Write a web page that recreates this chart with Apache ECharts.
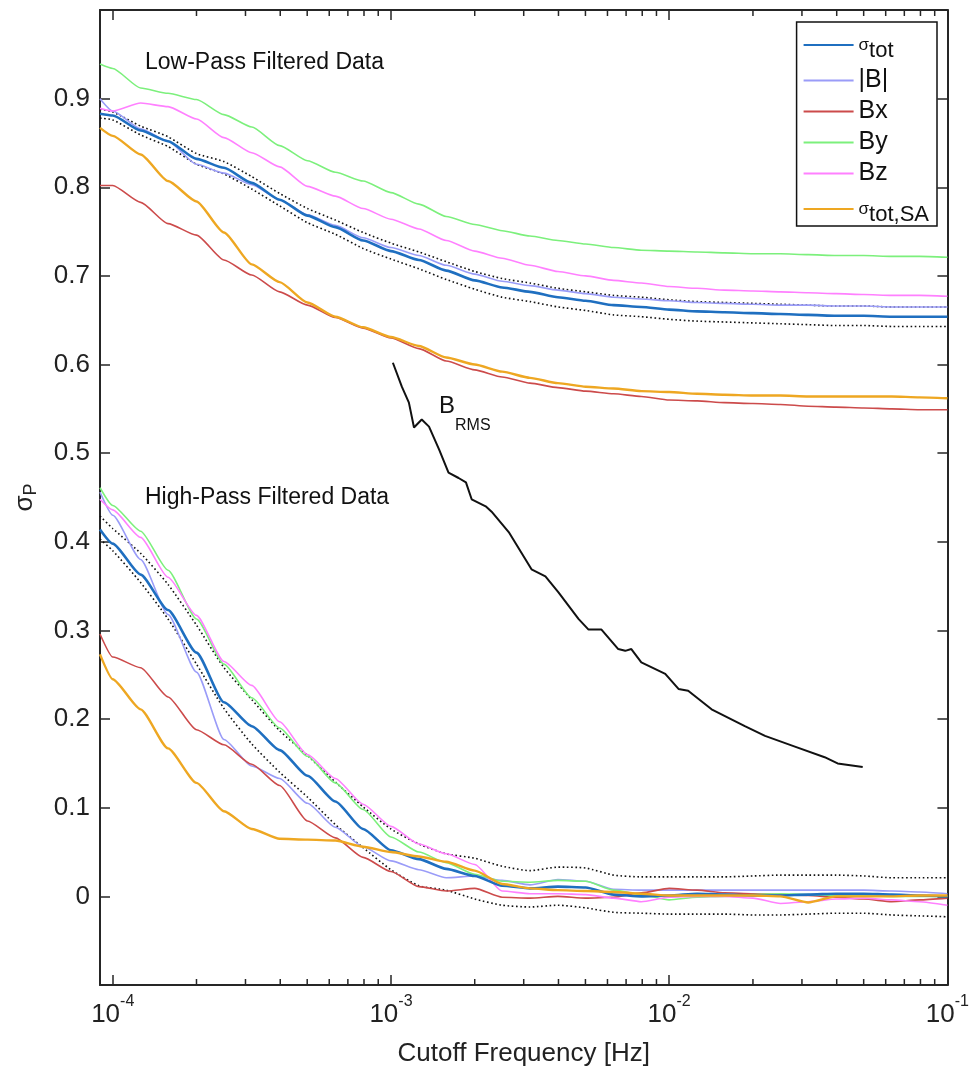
<!DOCTYPE html>
<html>
<head>
<meta charset="utf-8">
<script src="https://cdn.jsdelivr.net/npm/echarts@6/dist/echarts.min.js"></script>
<style>
  html, body { margin: 0; background: #fff; }
  #chart { width: 972px; height: 1072px; }
</style>
</head>
<body>
<div id="chart"></div>
<script>
const FONT = '"Liberation Sans", Arial, Helvetica, sans-serif';

// shared frequency grid (Hz) for the filtered curves
const freqs = [9e-5, 1e-4, 1.26e-4, 1.58e-4, 2.0e-4, 2.51e-4, 3.16e-4, 3.98e-4, 5.01e-4, 6.31e-4, 7.94e-4,
  1e-3, 1.26e-3, 1.58e-3, 2.0e-3, 2.51e-3, 3.16e-3, 3.98e-3, 5.01e-3, 6.31e-3, 7.94e-3,
  1e-2, 1.26e-2, 1.58e-2, 2.0e-2, 2.51e-2, 3.16e-2, 3.98e-2, 5.01e-2, 6.31e-2, 7.94e-2, 0.1];

// low-pass filtered data
const lpTot = [0.883, 0.881, 0.864, 0.852, 0.832, 0.822, 0.805, 0.786, 0.768, 0.755, 0.740, 0.728, 0.718, 0.706, 0.695, 0.687, 0.682, 0.676, 0.672, 0.667, 0.665, 0.662, 0.660, 0.659, 0.658, 0.657, 0.656, 0.655, 0.655, 0.654, 0.654, 0.654];
const lpTotUp = [0.888, 0.885, 0.869, 0.857, 0.838, 0.829, 0.812, 0.793, 0.776, 0.763, 0.749, 0.737, 0.727, 0.716, 0.705, 0.697, 0.692, 0.686, 0.682, 0.678, 0.676, 0.673, 0.671, 0.670, 0.669, 0.668, 0.667, 0.666, 0.666, 0.665, 0.665, 0.665];
const lpTotLo = [0.878, 0.876, 0.859, 0.846, 0.826, 0.815, 0.798, 0.779, 0.760, 0.747, 0.731, 0.719, 0.708, 0.696, 0.685, 0.676, 0.671, 0.665, 0.661, 0.656, 0.654, 0.651, 0.649, 0.648, 0.647, 0.646, 0.645, 0.644, 0.644, 0.643, 0.643, 0.643];
const lpB = [0.900, 0.886, 0.866, 0.852, 0.826, 0.816, 0.803, 0.786, 0.769, 0.757, 0.743, 0.732, 0.723, 0.712, 0.702, 0.694, 0.689, 0.684, 0.680, 0.676, 0.674, 0.672, 0.670, 0.669, 0.668, 0.667, 0.667, 0.666, 0.666, 0.665, 0.665, 0.665];
const lpBx = [0.802, 0.802, 0.783, 0.759, 0.746, 0.718, 0.701, 0.682, 0.667, 0.653, 0.641, 0.630, 0.618, 0.604, 0.594, 0.586, 0.579, 0.574, 0.570, 0.567, 0.564, 0.560, 0.559, 0.557, 0.556, 0.555, 0.553, 0.552, 0.551, 0.550, 0.549, 0.549];
const lpBy = [0.939, 0.934, 0.912, 0.906, 0.899, 0.882, 0.868, 0.847, 0.830, 0.817, 0.807, 0.794, 0.781, 0.767, 0.758, 0.751, 0.745, 0.740, 0.736, 0.732, 0.729, 0.728, 0.727, 0.726, 0.725, 0.725, 0.724, 0.723, 0.723, 0.722, 0.722, 0.721];
const lpBz = [0.889, 0.886, 0.895, 0.891, 0.877, 0.856, 0.839, 0.823, 0.801, 0.790, 0.776, 0.764, 0.753, 0.740, 0.728, 0.720, 0.712, 0.705, 0.700, 0.695, 0.692, 0.688, 0.686, 0.684, 0.683, 0.682, 0.681, 0.680, 0.679, 0.678, 0.678, 0.677];
const lpSA = [0.867, 0.858, 0.837, 0.807, 0.784, 0.749, 0.713, 0.693, 0.670, 0.654, 0.642, 0.631, 0.621, 0.608, 0.600, 0.592, 0.585, 0.579, 0.575, 0.573, 0.570, 0.569, 0.567, 0.566, 0.565, 0.565, 0.564, 0.564, 0.564, 0.564, 0.563, 0.562];

// high-pass filtered data
const hpTot = [0.414, 0.398, 0.363, 0.323, 0.275, 0.219, 0.192, 0.165, 0.136, 0.107, 0.076, 0.052, 0.042, 0.031, 0.023, 0.012, 0.009, 0.011, 0.010, 0.002, 0.000, 0.001, 0.003, 0.002, 0.001, 0.001, 0.002, 0.003, 0.003, 0.002, 0.001, 0.000];
const hpTotUp = [0.429, 0.415, 0.387, 0.352, 0.306, 0.258, 0.222, 0.187, 0.159, 0.129, 0.101, 0.076, 0.059, 0.048, 0.043, 0.034, 0.029, 0.033, 0.032, 0.024, 0.022, 0.022, 0.022, 0.022, 0.023, 0.024, 0.024, 0.024, 0.023, 0.021, 0.021, 0.021];
const hpTotLo = [0.403, 0.390, 0.354, 0.313, 0.262, 0.212, 0.172, 0.140, 0.112, 0.081, 0.055, 0.030, 0.012, 0.007, -0.003, -0.010, -0.012, -0.010, -0.013, -0.018, -0.019, -0.020, -0.020, -0.020, -0.021, -0.021, -0.020, -0.019, -0.019, -0.021, -0.022, -0.023];
const hpB = [0.456, 0.430, 0.380, 0.318, 0.253, 0.177, 0.147, 0.133, 0.105, 0.078, 0.056, 0.040, 0.030, 0.021, 0.023, 0.018, 0.013, 0.019, 0.017, 0.008, 0.007, 0.007, 0.007, 0.007, 0.007, 0.007, 0.007, 0.007, 0.007, 0.006, 0.005, 0.003];
const hpBx = [0.296, 0.270, 0.258, 0.225, 0.188, 0.171, 0.149, 0.125, 0.085, 0.066, 0.044, 0.028, 0.011, 0.006, 0.009, -0.001, -0.002, 0.000, -0.002, -0.001, 0.004, 0.009, 0.007, 0.004, 0.003, 0.002, 0.001, -0.001, -0.003, -0.006, -0.004, -0.002];
const hpBy = [0.461, 0.441, 0.412, 0.368, 0.313, 0.262, 0.224, 0.190, 0.158, 0.128, 0.098, 0.067, 0.050, 0.038, 0.025, 0.017, 0.016, 0.018, 0.017, 0.007, 0.002, -0.004, -0.001, 0.000, 0.002, 0.003, 0.002, 0.001, 0.001, 0.000, 0.000, 0.000];
const hpBz = [0.448, 0.436, 0.405, 0.360, 0.317, 0.265, 0.238, 0.197, 0.160, 0.133, 0.104, 0.079, 0.059, 0.048, 0.036, 0.006, 0.003, 0.003, 0.002, -0.002, -0.006, -0.001, 0.000, 0.000, -0.002, -0.008, -0.006, -0.003, -0.002, -0.004, -0.006, -0.010];
const hpSA = [0.273, 0.245, 0.211, 0.167, 0.128, 0.096, 0.076, 0.065, 0.064, 0.063, 0.056, 0.050, 0.045, 0.039, 0.029, 0.014, 0.009, 0.007, 0.006, 0.005, 0.003, 0.001, 0.001, 0.001, 0.001, 0.000, -0.007, 0.000, 0.000, 0.000, 0.001, 0.001];

// B_RMS curve
const brmsFreq = [1.016e-3, 1.094e-3, 1.16e-3, 1.21e-3, 1.29e-3, 1.37e-3, 1.49e-3, 1.61e-3, 1.75e-3, 1.86e-3, 1.95e-3, 2.19e-3, 2.30e-3, 2.65e-3,
  3.20e-3, 3.59e-3, 4.00e-3, 4.72e-3, 5.13e-3, 5.71e-3, 6.56e-3, 6.95e-3, 7.31e-3, 7.94e-3, 9.68e-3,
  1.08e-2, 1.17e-2, 1.42e-2, 1.87e-2, 2.21e-2, 2.83e-2, 3.62e-2, 4.03e-2, 4.96e-2];
const brmsVals = [0.602, 0.575, 0.557, 0.529, 0.538, 0.530, 0.504, 0.478, 0.472, 0.467, 0.448, 0.440, 0.434, 0.411,
  0.369, 0.361, 0.343, 0.313, 0.301, 0.301, 0.279, 0.277, 0.279, 0.264, 0.251,
  0.234, 0.232, 0.211, 0.192, 0.181, 0.169, 0.157, 0.150, 0.146];

const minorTicks = [2e-4, 3e-4, 4e-4, 5e-4, 6e-4, 7e-4, 8e-4, 9e-4,
  2e-3, 3e-3, 4e-3, 5e-3, 6e-3, 7e-3, 8e-3, 9e-3,
  2e-2, 3e-2, 4e-2, 5e-2, 6e-2, 7e-2, 8e-2, 9e-2];

const legendNames = ['σtot', '|B|', 'Bx', 'By', 'Bz', 'σtot,SA'];
const colors = {
  'σtot': '#1f6fc0', '|B|': '#9a9cf8', 'Bx': '#cc4b4b',
  'By': '#7cf07c', 'Bz': '#ff80ff', 'σtot,SA': '#eea722'
};

const Y_MIN = -0.1, Y_MAX = 1.0;

function pairs(xs, ys) {
  return xs.map((f, i) => [f, ys[i]]);
}

function curve(name, vals, width) {
  return {
    name: name,
    type: 'line',
    data: pairs(freqs, vals),
    symbol: 'none',
    smooth: 0.2,
    smoothMonotone: 'x',
    color: colors[name],
    lineStyle: { color: colors[name], width: width },
    emphasis: { disabled: true },
    animation: false
  };
}

function dotted(id, vals) {
  return {
    id: id,
    name: id,
    type: 'line',
    data: pairs(freqs, vals),
    symbol: 'none',
    smooth: 0.2,
    lineStyle: { color: '#111', width: 1.6, type: [1.6, 2.6] },
    emphasis: { disabled: true },
    animation: false
  };
}

const tickStyle = { color: '#262626', width: 1.5 };
const lineAxis = { lineStyle: { color: '#262626', width: 2 } };

const chart = echarts.init(document.getElementById('chart'), null, { renderer: 'canvas' });

chart.setOption({
  backgroundColor: '#fff',
  animation: false,
  textStyle: { fontFamily: FONT },
  grid: { left: 100, right: 22, top: 10, bottom: 84, containLabel: false },
  legend: {
    data: legendNames,
    orient: 'vertical',
    right: 35,
    top: 22,
    padding: [6, 8, 0, 7],
    itemGap: 6,
    itemWidth: 50,
    itemHeight: 2,
    icon: 'rect',
    backgroundColor: '#fff',
    borderColor: '#111',
    borderWidth: 1.5,
    borderRadius: 0,
    selectedMode: false,
    formatter: function (name) {
      if (name.charAt(0) === 'σ') return '{g|σ}{s|' + name.slice(1) + '}';
      return name;
    },
    textStyle: {
      fontFamily: FONT, fontSize: 25, color: '#111', lineHeight: 25,
      rich: {
        g: { fontFamily: FONT, fontSize: 17, lineHeight: 34, color: '#111' },
        s: { fontFamily: FONT, fontSize: 22, lineHeight: 18, verticalAlign: 'bottom', color: '#111' }
      }
    }
  },
  xAxis: [{
    type: 'log',
    logBase: 10,
    min: 9e-5,
    max: 0.1,
    position: 'bottom',
    axisLine: Object.assign({ onZero: false }, lineAxis),
    axisTick: { inside: true, length: 10, lineStyle: tickStyle },
    splitLine: { show: false },
    axisLabel: {
      margin: 9,
      formatter: function (v) {
        const e = Math.log10(v);
        if (Math.abs(e - Math.round(e)) > 1e-6) return '';
        return '{b|10}{e|' + Math.round(e) + '}';
      },
      rich: {
        b: { fontFamily: FONT, fontSize: 26, lineHeight: 34, verticalAlign: 'bottom', color: '#222' },
        e: { fontFamily: FONT, fontSize: 16, lineHeight: 16, verticalAlign: 'top', color: '#222' }
      }
    },
    name: 'Cutoff Frequency [Hz]',
    nameLocation: 'middle',
    nameGap: 56,
    nameTextStyle: { fontFamily: FONT, fontSize: 26, color: '#222' }
  }, {
    type: 'log',
    logBase: 10,
    min: 9e-5,
    max: 0.1,
    position: 'top',
    axisLine: Object.assign({ onZero: false }, lineAxis),
    axisTick: { inside: true, length: 10, lineStyle: tickStyle },
    axisLabel: { show: false },
    splitLine: { show: false }
  }],
  yAxis: [{
    type: 'value',
    min: Y_MIN,
    max: Y_MAX,
    interval: 0.1,
    position: 'left',
    axisLine: Object.assign({ onZero: false, show: true }, lineAxis),
    axisTick: { show: true, inside: true, length: 10, lineStyle: tickStyle },
    splitLine: { show: false },
    axisLabel: {
      margin: 10,
      fontFamily: FONT,
      fontSize: 26,
      color: '#222',
      formatter: function (v) {
        if (v < -0.05 || v > 0.95) return '';
        return String(+v.toFixed(1));
      }
    },
    name: '{g|σ}{s|P}',
    nameLocation: 'middle',
    nameRotate: 90,
    nameGap: 60,
    nameTextStyle: {
      rich: {
        g: { fontFamily: FONT, fontSize: 26, lineHeight: 30, color: '#222' },
        s: { fontFamily: FONT, fontSize: 18, lineHeight: 14, verticalAlign: 'bottom', color: '#222' }
      }
    }
  }, {
    type: 'value',
    min: Y_MIN,
    max: Y_MAX,
    interval: 0.1,
    position: 'right',
    axisLine: Object.assign({ onZero: false, show: true }, lineAxis),
    axisTick: { show: true, inside: true, length: 10, lineStyle: tickStyle },
    axisLabel: { show: false },
    splitLine: { show: false }
  }],
  graphic: [
    { type: 'text', left: 145, top: 51, style: { text: 'Low-Pass Filtered Data', fontFamily: FONT, fontSize: 23, fill: '#111' } },
    { type: 'text', left: 145, top: 486, style: { text: 'High-Pass Filtered Data', fontFamily: FONT, fontSize: 23, fill: '#111' } },
    {
      type: 'text', left: 439, top: 394,
      style: {
        text: '{b|B}{s|RMS}',
        rich: {
          b: { fontFamily: FONT, fontSize: 24, lineHeight: 40, verticalAlign: 'top', fill: '#111' },
          s: { fontFamily: FONT, fontSize: 16, lineHeight: 16, verticalAlign: 'bottom', fill: '#111' }
        }
      }
    }
  ],
  series: [
    dotted('lpUp', lpTotUp),
    dotted('lpLo', lpTotLo),
    dotted('hpUp', hpTotUp),
    dotted('hpLo', hpTotLo),
    curve('|B|', lpB, 1.6),
    curve('|B|', hpB, 1.6),
    curve('Bx', lpBx, 1.6),
    curve('Bx', hpBx, 1.6),
    curve('By', lpBy, 1.6),
    curve('By', hpBy, 1.6),
    curve('Bz', lpBz, 1.6),
    curve('Bz', hpBz, 1.6),
    curve('σtot', lpTot, 2.6),
    curve('σtot', hpTot, 2.6),
    curve('σtot,SA', lpSA, 2.4),
    curve('σtot,SA', hpSA, 2.4),
    {
      name: 'BRMS',
      type: 'line',
      data: pairs(brmsFreq, brmsVals),
      symbol: 'none',
      lineStyle: { color: '#111', width: 2 },
      emphasis: { disabled: true },
      animation: false
    },
    {
      // minor log ticks on the bottom and top frame
      name: 'minorTicks',
      type: 'custom',
      silent: true,
      clip: false,
      data: minorTicks.map(f => [f, Y_MIN]),
      encode: { x: 0, y: 1 },
      renderItem: function (params, api) {
        const f = api.value(0);
        const b = api.coord([f, Y_MIN]);
        const t = api.coord([f, Y_MAX]);
        const st = { stroke: '#262626', lineWidth: 1.5 };
        return {
          type: 'group',
          children: [
            { type: 'line', shape: { x1: b[0], y1: b[1], x2: b[0], y2: b[1] - 6 }, style: st },
            { type: 'line', shape: { x1: t[0], y1: t[1], x2: t[0], y2: t[1] + 6 }, style: st }
          ]
        };
      },
      animation: false
    }
  ]
});
</script>
</body>
</html>
